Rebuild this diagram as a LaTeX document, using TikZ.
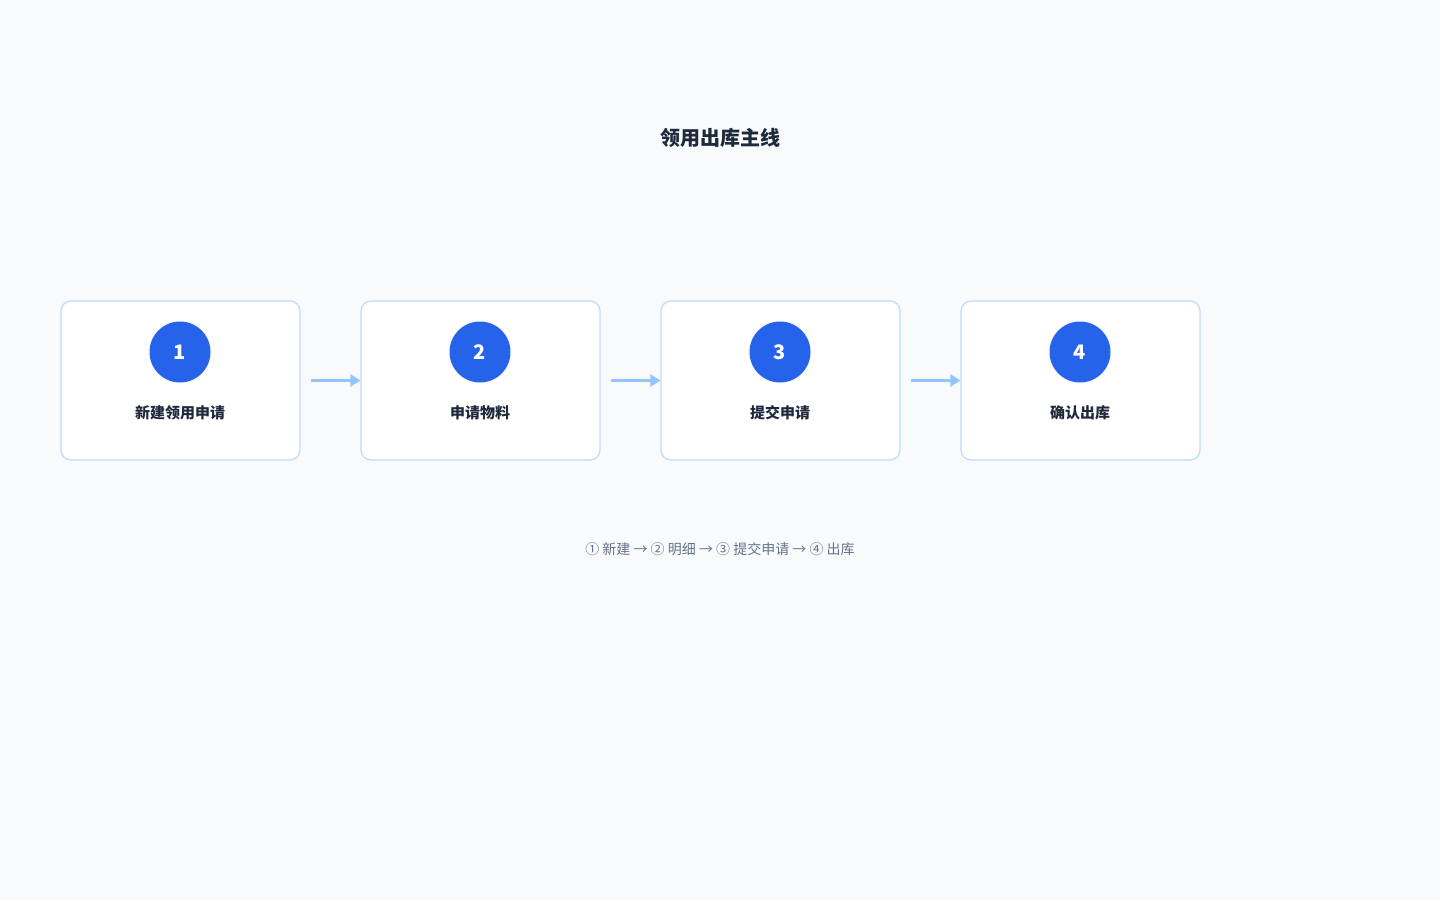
\documentclass[tikz,border=0pt]{standalone}
\usepackage{fontspec}
\setmainfont{Noto Sans CJK SC}
\usetikzlibrary{arrows.meta}
\definecolor{bg}{HTML}{F8FAFC}
\definecolor{bd}{HTML}{BFDBFE}
\definecolor{blu}{HTML}{2563EB}
\definecolor{txt}{HTML}{1E293B}
\definecolor{cap}{HTML}{64748B}
\definecolor{arr}{HTML}{93C5FD}
\tikzset{
 box/.style={draw=bd,line width=1.3pt,fill=white,rounded corners=10pt,minimum width=239pt,minimum height=159pt},
 num/.style={circle,fill=blu,minimum size=61pt,inner sep=0pt,text=white,font=\fontsize{20}{24}\selectfont\bfseries},
 lab/.style={text=txt,font=\fontsize{15}{18}\selectfont\bfseries},
 con/.style={arr,line width=2.5pt,shorten <=10pt,-{Triangle[length=10pt,width=12pt]}}
}
\begin{document}
\begin{tikzpicture}[x=1pt,y=-1pt]
\fill[bg] (0,0) rectangle (1440,900);
\useasboundingbox (0,0) rectangle (1440,900);
\node[text=txt,font=\fontsize{20}{24}\selectfont\bfseries] (title) at (720,138) {领用出库主线};
\foreach \i/\t in {1/新建领用申请,2/申请物料/服务,3/提交申请,4/确认出库}{
  \node[box] (b\i) at (180.5+300*\i-300,380.5) {};
  \node[num] (c\i) at (180+300*\i-300,352) {\i};
  \node[lab] (l\i) at (180+300*\i-300,413) {\t};
}
\draw[con] (b1) -- (b2);
\draw[con] (b2) -- (b3);
\draw[con] (b3) -- (b4);
\node[text=cap,font=\fontsize{14}{17}\selectfont] (caption) at (720,549) {① 新建 → ② 明细 → ③ 提交申请 → ④ 出库};
\end{tikzpicture}
\end{document}
